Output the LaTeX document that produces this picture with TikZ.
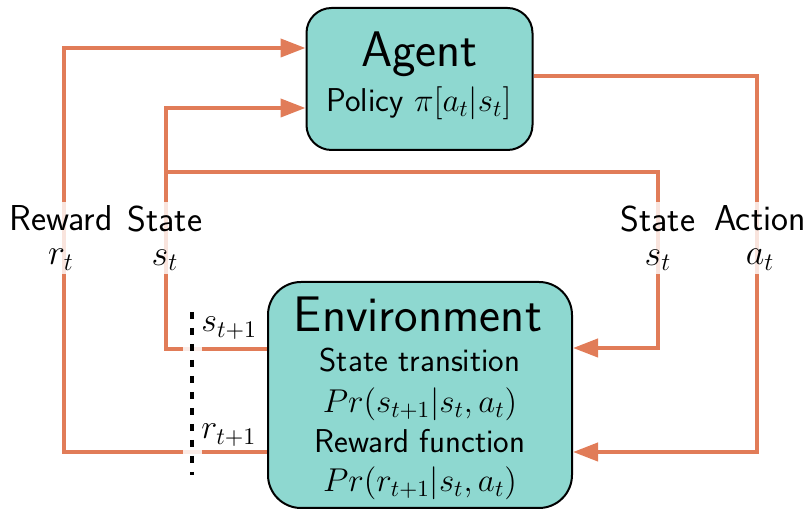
\RequirePackage{fix-cm}
\documentclass[tikz,border=0pt]{standalone}
\usepackage{fontspec}
\usetikzlibrary{arrows.meta}

\definecolor{flow}{RGB}{225,124,88}
\definecolor{boxfill}{RGB}{142,216,208}

\tikzset{
  block/.style={draw=black, line width=1pt, fill=boxfill, rounded corners=#1, inner sep=0pt},
  flowline/.style={draw=flow, line width=2pt},
  flowarrow/.style={flowline, -{Triangle[length=12.5pt,width=9pt]}},
  tag/.style={font=\sffamily\fontsize{18}{17}\selectfont, align=center,
    fill=white, fill opacity=0.8, text opacity=1, inner sep=2pt},
  big/.style={font=\sffamily\fontsize{25}{28}\selectfont, anchor=base, inner sep=1pt},
  small/.style={font=\sffamily\fontsize{16.5}{18}\selectfont, anchor=base, inner sep=0.5pt},
}

\begin{document}
\begin{tikzpicture}[x=0.5pt,y=-0.5pt]
    \useasboundingbox (0,0) rectangle (810,512);
    % the two boxes
    \node[block=12.5pt, minimum width=113pt, minimum height=71pt] (agent) at (419.5,79) {};
    \node[block=16.5pt, minimum width=152pt, minimum height=113pt] (env) at (420,395) {};
    \node[big] (agentname) at (419.5,67) {Agent};
    \node[small] (policy) at (419,112) {Policy $\pi[a_t|s_t]$};
    \node[big] (envname) at (418,332) {Environment};
    \node[small] (trans) at (420,372) {State transition};
    \node[small] (transprob) at (420,413) {$Pr(s_{t+1}|s_t,a_t)$};
    \node[small] (rewfun) at (420,453) {Reward function};
    \node[small] (rewprob) at (420,492) {$Pr(r_{t+1}|s_t,a_t)$};
    % loops between agent and environment
    \draw[flowarrow] (env.west |- 0,452) -| (64,48) -- (agent.west |- 0,48);
    \draw[flowarrow] (env.west |- 0,349) -| (166,108) -- (agent.west |- 0,108);
    \draw[flowarrow] (166,172) -| (658,348) -- (env.east |- 0,348);
    \draw[flowarrow] (agent.east |- 0,76) -| (757,452) -- (env.east |- 0,452);
    % time step cut
    \coordinate (cuttop) at (192,312);
    \coordinate (cutbot) at (192,475);
    \draw[white, opacity=0.85, line width=9.5pt] (cuttop) -- (cutbot);
    \draw[black, line width=1.8pt, dash pattern=on 3.5pt off 4.5pt] (cuttop) -- (cutbot);
    \node[small, anchor=base west, font=\fontsize{17}{18}\selectfont] (snext) at (200,332) {$s_{t+1}$};
    \node[small, anchor=base west, font=\fontsize{17}{18}\selectfont] (rnext) at (200,439) {$r_{t+1}$};
    % labels on the lines
    \node[tag] (rewardtag) at (61,238) {Reward\\$r_t$};
    \node[tag] (statetag) at (165,238) {State\\$s_t$};
    \node[tag] (statetagr) at (658,238) {State\\$s_t$};
    \node[tag] (actiontag) at (760,238) {Action\\$a_t$};
\end{tikzpicture}
\end{document}
